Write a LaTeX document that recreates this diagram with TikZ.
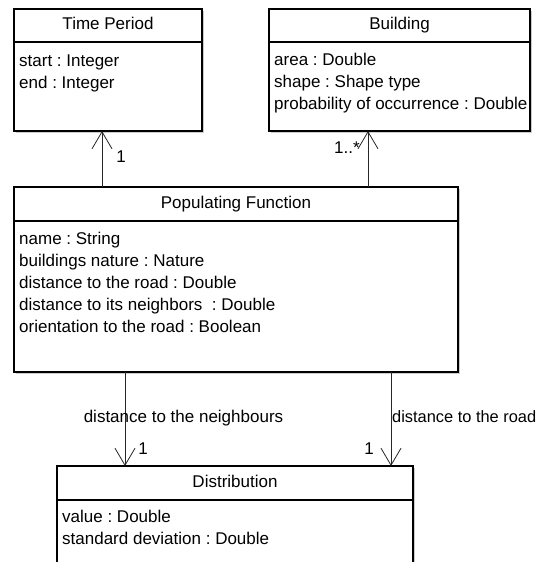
\documentclass[tikz,border=0pt]{standalone}
\usepackage{fontspec}
\setmainfont{Liberation Sans}
\usetikzlibrary{positioning,arrows.meta,shadows}
\frenchspacing

\begin{document}
\begin{tikzpicture}[
            x=1pt, y=-1pt,
            node distance=0pt,
            every node/.style={font=\fontsize{17}{22}\selectfont},
            classhead/.style={rectangle, draw, line width=1.2pt, fill=white,
                inner sep=0pt, outer sep=0pt, text height=12.3pt, text depth=3.6pt,
                drop shadow={shadow xshift=2pt, shadow yshift=-2pt, fill=black!40, opacity=.5}},
            classbody/.style={classhead, text height=, text depth=},
            attr/.style={anchor=base west, inner sep=0pt},
            mult/.style={anchor=base, inner sep=0pt},
            assoc/.style={-{Straight Barb[length=17pt, width=20pt]}, line width=0.8pt, black!85},
        ]

        \useasboundingbox (0,0) rectangle (539,562);

        % Time Period
        \node[classhead, minimum width=188pt, minimum height=33pt] (tp) at (108,25.5) {Time Period};
        \node[classbody, minimum width=188pt, minimum height=89pt, below=of tp] (tp-body) {};
        \foreach \a [count=\i from 0] in {start : Integer, end : Integer}
        \node[attr] (tp-a\i) at (19,{66+22*\i}) {\a};

        % Building
        \node[classhead, minimum width=261pt, minimum height=33pt] (bd) at (399.5,25.5) {Building};
        \node[classbody, minimum width=261pt, minimum height=89pt, below=of bd] (bd-body) {};
        \foreach \a [count=\i from 0] in {area : Double, shape : Shape type, probability of occurrence : Double}
        \node[attr] (bd-a\i) at (274,{65+22*\i}) {\a};

        % Populating Function
        \node[classhead, minimum width=444pt, minimum height=34pt] (pf) at (236,204) {Populating Function};
        \node[classbody, minimum width=444pt, minimum height=151pt, below=of pf] (pf-body) {};
        \foreach \a [count=\i from 0] in {name : String, buildings nature : Nature,
            distance to the road : Double, distance to its neighbors~~: Double,
            orientation to the road : Boolean}
        \node[attr] (pf-a\i) at (19,{244+22*\i}) {\a};

        % Distribution
        \node[classhead, minimum width=356pt, minimum height=34pt] (ds) at (235,483) {Distribution};
        \node[classbody, minimum width=356pt, minimum height=120pt, below=of ds] (ds-body) {};
        \foreach \a [count=\i from 0] in {value : Double, standard deviation : Double}
        \node[attr] (ds-a\i) at (62,{522.5+22*\i}) {\a};

        % Connectors
        \coordinate (tp-x) at (102,0);
        \coordinate (bd-x) at (368,0);
        \coordinate (nb-x) at (125,0);
        \coordinate (rd-x) at (391,0);
        \draw[assoc] (pf.north -| tp-x) -- (tp-body.south -| tp-x);
        \draw[assoc] (pf.north -| bd-x) -- (bd-body.south -| bd-x);
        \draw[assoc] (pf-body.south -| nb-x) -- (ds.north -| nb-x);
        \draw[assoc] (pf-body.south -| rd-x) -- (ds.north -| rd-x);

        % Multiplicities and roles
        \node[mult] (tp-m) at (121,162) {1};
        \node[mult] (bd-m) at (347,153) {1..*};
        \node[mult] (nb-r) at (183.5,422) {distance to the neighbours};
        \node[mult, anchor=base west, font=\fontsize{16.4}{22}\selectfont] (rd-r) at (392,422) {distance to the road};
        \node[mult] (nb-m) at (143,454) {1};
        \node[mult] (rd-m) at (369,454) {1};

    \end{tikzpicture}
\end{document}
